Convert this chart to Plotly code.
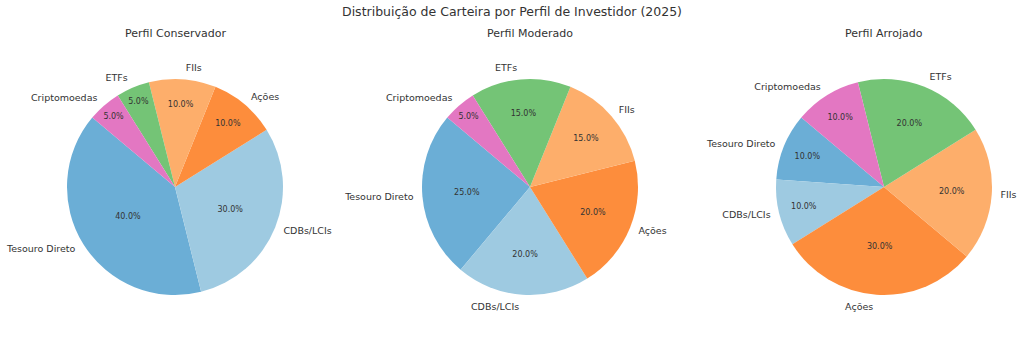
import plotly.graph_objects as go

# Asset classes, in drawing order
categories = ["Tesouro Direto", "CDBs/LCIs", "Ações", "FIIs", "ETFs", "Criptomoedas"]

# Allocation (%) per investor profile
conservador = [40, 30, 10, 10, 5, 5]
moderado = [25, 20, 20, 15, 15, 5]
arrojado = [10, 10, 30, 20, 20, 10]

profiles = ["Perfil Conservador", "Perfil Moderado", "Perfil Arrojado"]
series = [conservador, moderado, arrojado]

colors = ["#6baed6", "#9ecae1", "#fd8d3c", "#fdae6b", "#74c476", "#e377c2"]
font_family = "DejaVu Sans"
text_color = "#333333"

W, H = 1024, 339
centers_x = [175, 530, 884]
center_y = 187
radius = 108
label_radius = 114  # invisible ring that carries the outside category names

# first slice begins 50 degrees left of 12 o'clock and runs counterclockwise;
# plotly anchors the *end* of the first slice at `rotation` for ccw pies
START_DEG = -50


def domain(cx, r):
    return dict(
        x=[(cx - r) / W, (cx + r) / W],
        y=[(H - center_y - r) / H, (H - center_y + r) / H],
    )


fig = go.Figure()

for name, vals, cx in zip(profiles, series, centers_x):
    rot = START_DEG - 360.0 * vals[0] / sum(vals)
    # filled slices with percentages inside
    fig.add_trace(go.Pie(
        labels=categories, values=vals, name=name, domain=domain(cx, radius),
        sort=False, direction="counterclockwise", rotation=rot,
        marker=dict(colors=colors, line=dict(width=0)),
        textinfo="percent", texttemplate="%{percent:.1%}",
        textposition="inside", insidetextorientation="horizontal",
        textfont=dict(family=font_family, size=8, color=text_color),
        showlegend=False,
    ))
    # category names outside the pie
    fig.add_trace(go.Pie(
        labels=categories, values=vals, name=name, domain=domain(cx, label_radius),
        sort=False, direction="counterclockwise", rotation=rot,
        marker=dict(colors=["rgba(0,0,0,0)"] * len(categories), line=dict(width=0)),
        textinfo="label", textposition="outside",
        outsidetextfont=dict(family=font_family, size=9.5, color=text_color),
        showlegend=False, hoverinfo="skip",
    ))
    fig.add_annotation(
        text=name, x=cx / W, y=1 - 33 / H, xref="paper", yref="paper",
        showarrow=False, xanchor="center", yanchor="middle",
        font=dict(family=font_family, size=11, color=text_color),
    )

fig.update_layout(
    width=W, height=H,
    margin=dict(l=0, r=0, t=0, b=0),
    paper_bgcolor="white", plot_bgcolor="white",
    title=dict(
        text="Distribuição de Carteira por Perfil de Investidor (2025)",
        x=0.5, xanchor="center", y=1 - 12 / H, yanchor="middle",
        font=dict(family=font_family, size=12.5, color=text_color),
    ),
)

fig.write_html("out.html")
